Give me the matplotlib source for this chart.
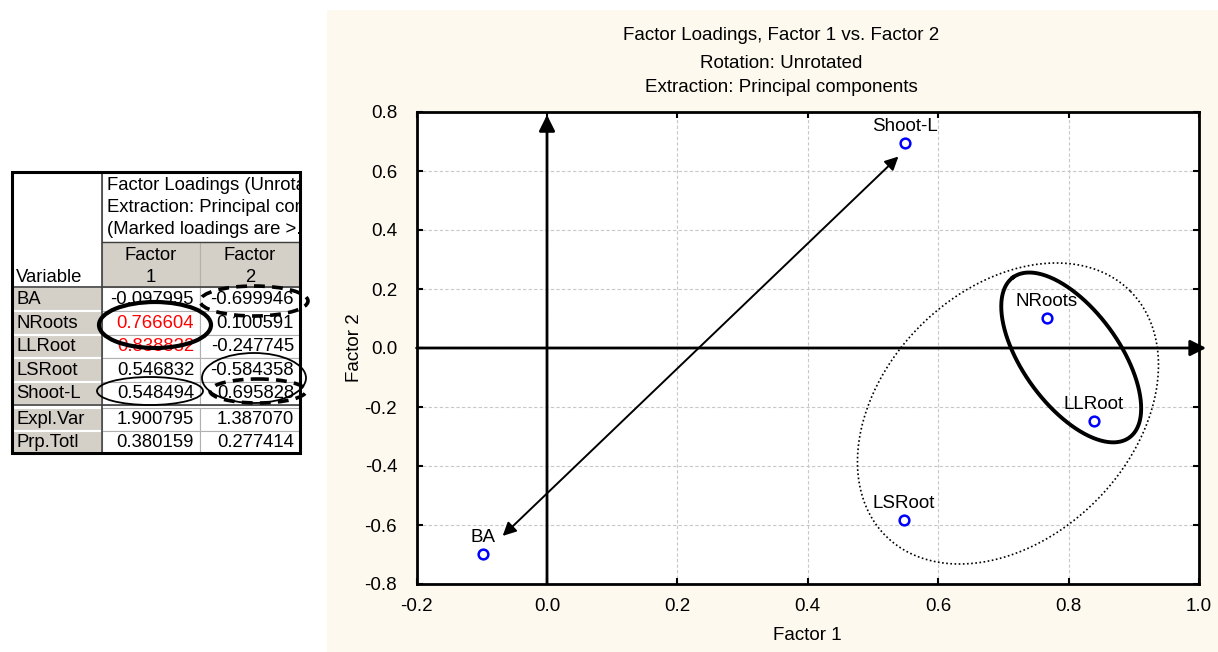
import numpy as np
import matplotlib

matplotlib.use("Agg")
import matplotlib.pyplot as plt
from matplotlib.patches import Rectangle, Ellipse
from matplotlib.ticker import FormatStrFormatter
from matplotlib.transforms import Bbox, TransformedBbox

plt.rcParams["font.family"] = ["Liberation Sans", "DejaVu Sans"]

# --- data -------------------------------------------------------------------
variables = ["BA", "NRoots", "LLRoot", "LSRoot", "Shoot-L"]
factor1 = [-0.097995, 0.766604, 0.838832, 0.546832, 0.548494]
factor2 = [-0.699946, 0.100591, -0.247745, -0.584358, 0.695828]
summary_names = ["Expl.Var", "Prp.Totl"]
summary_f1 = [1.900795, 0.380159]
summary_f2 = [1.387070, 0.277414]
marked_cutoff = 0.70
table_header = ["Factor Loadings (Unrotated)",
                "Extraction: Principal components",
                "(Marked loadings are >.700000)"]
title_lines = ["Factor Loadings, Factor 1 vs. Factor 2",
               "Rotation: Unrotated",
               "Extraction: Principal components"]
x_ticks = [-0.2, 0.0, 0.2, 0.4, 0.6, 0.8, 1.0]
y_ticks = [-0.8, -0.6, -0.4, -0.2, 0.0, 0.2, 0.4, 0.6, 0.8]

W, H = 1218, 652
GRAY = "#d4d0c8"
CREAM = "#fdf9ee"
FS = 13.3
CFS = 13.5

fig = plt.figure(figsize=(W / 100, H / 100), dpi=100)
fig.patches.append(Rectangle((327 / W, 0), 1 - 327 / W, (H - 10) / H,
                             transform=fig.transFigure, facecolor=CREAM,
                             edgecolor="none", zorder=-1))

# --- table (pixel coordinates) ---------------------------------------------
tab = fig.add_axes([0, 0, 326 / W, 1])
tab.set_xlim(0, 326)
tab.set_ylim(H, 0)
tab.axis("off")

cols = [12, 102, 200, 300]
top, head_mid, head_bot = 172, 242, 287
body = [287, 311, 334.5, 358, 381.5, 405]
summ = [408, 430.5, 453]


def cell(x0, y0, x1, y1, fc, ec="#b0b0b0", lw=0.8):
    tab.add_patch(Rectangle((x0, y0), x1 - x0, y1 - y0, facecolor=fc,
                            edgecolor=ec, lw=lw, zorder=1))


cell(cols[0], top, cols[1], head_bot, "white")
cell(cols[1], top, cols[3], head_mid, "white")
for c in (1, 2):
    cell(cols[c], head_mid, cols[c + 1], head_bot, GRAY)
    tab.text((cols[c] + cols[c + 1]) / 2, 256, "Factor", ha="center", va="center", fontsize=FS, zorder=3)
    tab.text((cols[c] + cols[c + 1]) / 2, 277, str(c), ha="center", va="center", fontsize=FS, zorder=3)
tab.text(cols[0] + 4, 277, "Variable", ha="left", va="center", fontsize=FS, zorder=3)

clip = TransformedBbox(Bbox.from_extents(cols[1], top, cols[3] - 1, head_mid), tab.transData)
for i, line in enumerate(table_header):
    t = tab.text(cols[1] + 5, 186 + 21.5 * i, line, ha="left", va="center", fontsize=FS, zorder=3)
    t.set_clip_box(clip)
    t.set_clip_on(True)

rows = list(zip(variables, factor1, factor2, body[:-1], body[1:]))
rows += list(zip(summary_names, summary_f1, summary_f2, summ[:-1], summ[1:]))
for name, v1, v2, y0, y1 in rows:
    cell(cols[0], y0, cols[1], y1, GRAY, ec="white", lw=1.5)
    tab.text(cols[0] + 4, (y0 + y1) / 2 + 0.5, name, ha="left", va="center", fontsize=FS, zorder=3)
    for c, v in ((1, v1), (2, v2)):
        cell(cols[c], y0, cols[c + 1], y1, "white")
        red = name in variables and abs(v) > marked_cutoff
        tab.text(cols[c + 1] - 6, (y0 + y1) / 2 + 0.5, f"{v:.6f}", ha="right", va="center",
                 fontsize=FS, color="#ff0000" if red else "black", zorder=3)

tab.plot([cols[1], cols[1]], [top, summ[-1]], color="#404040", lw=1.2, zorder=2)
tab.plot([cols[1], cols[3]], [head_mid, head_mid], color="#404040", lw=1.0, zorder=2)
tab.plot([cols[0], cols[3]], [head_bot, head_bot], color="#404040", lw=1.2, zorder=2)
tab.plot([cols[0], cols[3]], [body[-1], body[-1]], color="#404040", lw=1.2, zorder=2)
tab.add_patch(Rectangle((cols[0], top), cols[3] - cols[0], summ[-1] - top, facecolor="none",
                        edgecolor="black", lw=2.2, zorder=4))

# hand-drawn marks on the table
for (cx, cy, w, h, lw, ls) in [(155, 325, 112, 46, 3.0, "-"),
                               (254, 301, 108, 30, 2.6, (0, (3, 2))),
                               (254, 378, 104, 50, 1.3, "-"),
                               (150, 391, 106, 28, 1.3, "-"),
                               (258, 391, 96, 24, 2.6, (0, (3, 2)))]:
    tab.add_patch(Ellipse((cx, cy), w, h, facecolor="none", edgecolor="black",
                          lw=lw, linestyle=ls, zorder=5))

# --- loadings plot ----------------------------------------------------------
ax = fig.add_axes([416.6 / W, (H - 584) / H, 782.4 / W, 472 / H])
ax.set_facecolor("white")
ax.set_xlim(-0.2, 1.0)
ax.set_ylim(-0.8, 0.8)
ax.set_xticks(x_ticks)
ax.set_yticks(y_ticks)
ax.xaxis.set_major_formatter(FormatStrFormatter("%.1f"))
ax.yaxis.set_major_formatter(FormatStrFormatter("%.1f"))
ax.tick_params(direction="in", length=4, width=1.5, top=True, right=True, labelsize=CFS)
ax.tick_params(axis="x", pad=10)
ax.tick_params(axis="y", pad=14)
ax.grid(True, color="#c8c8c8", lw=0.8, linestyle=(0, (3, 2)))
for s in ax.spines.values():
    s.set_linewidth(2.0)

ax.plot(factor1, factor2, "o", mfc="none", mec="#0000ff", ms=7, mew=1.8, zorder=6)
for name, x, y in zip(variables, factor1, factor2):
    ax.annotate(name, (x, y), xytext=(0, 12), textcoords="offset points",
                ha="center", va="center", fontsize=CFS, zorder=6)

ax.set_xlabel("Factor 1", fontsize=CFS)
ax.set_ylabel("Factor 2", fontsize=CFS)
ax.xaxis.set_label_coords(0.5, -0.11)
ax.xaxis.label.set_va("center")
ax.yaxis.set_label_coords(-0.08, 0.5)
ax.yaxis.label.set_va("center")

ax.annotate("", xy=(0, 0.79), xytext=(0, -0.8), annotation_clip=False,
            arrowprops=dict(arrowstyle="-|>", lw=2, color="black", mutation_scale=24,
                            shrinkA=0, shrinkB=0), zorder=4)
ax.annotate("", xy=(1.011, 0), xytext=(-0.2, 0), annotation_clip=False,
            arrowprops=dict(arrowstyle="-|>", lw=2, color="black", mutation_scale=24,
                            shrinkA=0, shrinkB=0), zorder=4)
ax.annotate("", xy=(-0.068, -0.637), xytext=(0.539, 0.649), annotation_clip=False,
            arrowprops=dict(arrowstyle="<|-|>", lw=1.4, color="black", mutation_scale=20,
                            shrinkA=0, shrinkB=0), zorder=4)


def pixel_ellipse(cx, cy, a_px, b_px, angle, **kw):
    sx = ax.bbox.width / 1.2
    sy = ax.bbox.height / 1.6
    t = np.linspace(0, 2 * np.pi, 400)
    th = np.radians(angle)
    dx = a_px * np.cos(t) * np.cos(th) - b_px * np.sin(t) * np.sin(th)
    dy = a_px * np.cos(t) * np.sin(th) + b_px * np.sin(t) * np.cos(th)
    ax.plot(cx + dx / sx, cy + dy / sy, color="black", zorder=5, **kw)


pixel_ellipse(0.707, -0.222, 173, 124, 45, lw=1.2, linestyle=(0, (1, 1.5)))
pixel_ellipse(0.804, -0.032, 99, 48, 126, lw=2.8)

for line, ypix in zip(title_lines, [35, 64, 87]):
    fig.text(781 / W, 1 - ypix / H, line, ha="center", va="center", fontsize=CFS)

fig.savefig("out.png", dpi=100)
